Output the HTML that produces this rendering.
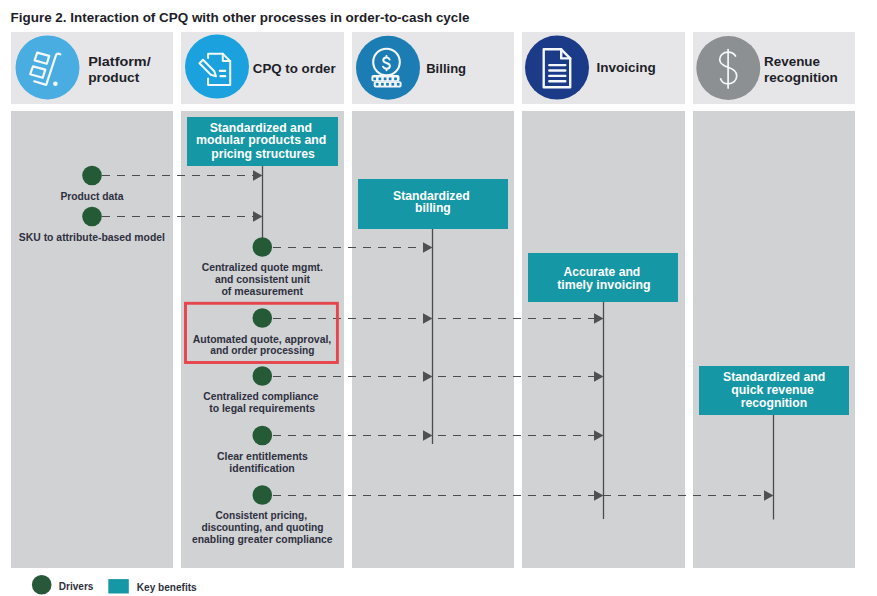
<!DOCTYPE html>
<html><head><meta charset="utf-8"><title>Figure 2</title>
<style>
html,body{margin:0;padding:0;background:#ffffff;}
body{width:877px;height:596px;overflow:hidden;}
svg{display:block;font-family:"Liberation Sans", sans-serif;}
</style></head><body>
<svg width="877" height="596" viewBox="0 0 877 596">
<text x="10.6" y="21.7" font-size="12.1" fill="#1e1e28" font-weight="bold" textLength="458.9" lengthAdjust="spacingAndGlyphs">Figure 2. Interaction of CPQ with other processes in order-to-cash cycle</text>
<rect x="11" y="32" width="162" height="72" fill="#e6e6e8"/>
<rect x="11" y="111" width="162" height="457" fill="#d1d2d4"/>
<rect x="181" y="32" width="163" height="72" fill="#e6e6e8"/>
<rect x="181" y="111" width="163" height="457" fill="#d1d2d4"/>
<rect x="352" y="32" width="162" height="72" fill="#e6e6e8"/>
<rect x="352" y="111" width="162" height="457" fill="#d1d2d4"/>
<rect x="522" y="32" width="163" height="72" fill="#e6e6e8"/>
<rect x="522" y="111" width="163" height="457" fill="#d1d2d4"/>
<rect x="693" y="32" width="162" height="72" fill="#e6e6e8"/>
<rect x="693" y="111" width="162" height="457" fill="#d1d2d4"/>
<text x="88.2" y="65.9" font-size="13" fill="#1e1e28" font-weight="bold" textLength="62.5" lengthAdjust="spacingAndGlyphs">Platform/</text>
<text x="88.2" y="81.5" font-size="13" fill="#1e1e28" font-weight="bold" textLength="51.1" lengthAdjust="spacingAndGlyphs">product</text>
<text x="252.8" y="72.8" font-size="13" fill="#1e1e28" font-weight="bold" textLength="82.8" lengthAdjust="spacingAndGlyphs">CPQ to order</text>
<text x="426.2" y="72.6" font-size="13" fill="#1e1e28" font-weight="bold" textLength="39.9" lengthAdjust="spacingAndGlyphs">Billing</text>
<text x="596.4" y="71.7" font-size="13" fill="#1e1e28" font-weight="bold" textLength="59.3" lengthAdjust="spacingAndGlyphs">Invoicing</text>
<text x="764.1" y="65.9" font-size="13" fill="#1e1e28" font-weight="bold" textLength="55.9" lengthAdjust="spacingAndGlyphs">Revenue</text>
<text x="764.1" y="81.5" font-size="13" fill="#1e1e28" font-weight="bold" textLength="73.6" lengthAdjust="spacingAndGlyphs">recognition</text>
<circle cx="47.5" cy="67.4" r="32" fill="#4aade2"/>
<circle cx="217" cy="66.6" r="32" fill="#1ba2de"/>
<circle cx="388" cy="67.8" r="32" fill="#1c7db4"/>
<circle cx="557" cy="67.6" r="32" fill="#1b3a87"/>
<circle cx="728.3" cy="68" r="32" fill="#8d9093"/>
<g fill="none" stroke="#f4f8fb" stroke-width="2.2" stroke-linejoin="round" stroke-linecap="round">
<path d="M37.2,52.6 L49.2,55.9 L46.8,63.8 L34.6,60.4 Z"/>
<path d="M33,66.4 L45.3,69.6 L42.7,77.8 L30.2,74.2 Z"/>
<path d="M34.2,81.3 L46.2,84.9 L56,55.2 Q56.6,53.5 58.3,53.6 L60.3,54.3"/>
</g>
<circle cx="55.4" cy="83.8" r="2.3" fill="#f4f8fb"/>
<g fill="none" stroke="#f4f8fb" stroke-width="2" stroke-linejoin="round" stroke-linecap="round">
<path d="M208.1,58.1 L208.1,53.7 L222.8,53.7 L230.2,61.1 L230.2,84.9 L208.1,84.9 L208.1,78.5"/>
<path d="M222.8,53.7 L222.8,61.1 L230.2,61.1"/>
<path d="M199.5,63.2 L203,59.7 L214.3,71.2 L216,76.2 L210.8,74.7 Z"/>
<path d="M219.8,70.8 L225.2,70.8 M220.5,76.2 L225.2,76.2" stroke-width="2.3"/>
</g>
<g transform="translate(0,0.6)">
<circle cx="386.5" cy="61.4" r="13.3" fill="none" stroke="#f4f8fb" stroke-width="2.1"/>
<path d="M389.6,58.9 C389.1,57.6 388,57 386.5,57 C384.6,57 383.3,58 383.3,59.6 C383.3,61.4 385,61.9 386.6,62.4 C388.4,62.9 389.9,63.6 389.9,65.5 C389.9,67.1 388.6,68.1 386.5,68.1 C384.8,68.1 383.6,67.4 383,66.1 M386.5,55.4 L386.5,57 M386.5,68.1 L386.5,69.7" fill="none" stroke="#f4f8fb" stroke-width="2" stroke-linecap="round"/>
<rect x="371.4" y="74.5" width="28.1" height="6.4" rx="2" fill="#f4f8fb"/>
<rect x="373.7" y="80.6" width="27.9" height="6.2" rx="2" fill="#f4f8fb"/>
<rect x="373.35" y="76.9" width="2.7" height="2.7" fill="#1c7db4"/>
<rect x="378.55" y="76.9" width="2.7" height="2.7" fill="#1c7db4"/>
<rect x="383.75" y="76.9" width="2.7" height="2.7" fill="#1c7db4"/>
<rect x="388.75" y="76.9" width="2.7" height="2.7" fill="#1c7db4"/>
<rect x="394.15" y="76.9" width="2.7" height="2.7" fill="#1c7db4"/>
<rect x="375.75" y="82.3" width="2.7" height="2.7" fill="#1c7db4"/>
<rect x="381.05" y="82.3" width="2.7" height="2.7" fill="#1c7db4"/>
<rect x="386.15" y="82.3" width="2.7" height="2.7" fill="#1c7db4"/>
<rect x="391.45" y="82.3" width="2.7" height="2.7" fill="#1c7db4"/>
<rect x="396.85" y="82.3" width="2.7" height="2.7" fill="#1c7db4"/>
</g>
<g fill="none" stroke="#f4f8fb" stroke-width="2.4" stroke-linejoin="round" stroke-linecap="round">
<path d="M543.7,49.3 L561.2,49.3 L570.2,58.4 L570.2,87.3 L543.7,87.3 Z"/>
<path d="M561.2,49.3 L561.2,58.4 L570.2,58.4"/>
<path d="M549.3,65.1 L565.3,65.1 M549.3,70.5 L565.3,70.5 M549.3,75.9 L565.3,75.9 M549.3,81.2 L565.3,81.2"/>
</g>
<g fill="none" stroke="#f4f8fb" stroke-width="1.7" stroke-linecap="round">
<path d="M728.1,49.5 L728.1,88.1"/>
<path d="M735.5,56 C733.5,53 731,52.2 728,52.2 C723,52.2 719.7,55.5 719.7,59.6 C719.7,64.2 724,66 728,67.3 C733,68.8 736.7,71 736.7,75.8 C736.7,80.6 733,83.9 728,83.9 C724.5,83.9 721.6,82 720.6,78.8"/>
</g>
<line x1="262.5" y1="166" x2="262.5" y2="247" stroke="#4c4c50" stroke-width="1.3"/>
<line x1="432.5" y1="229" x2="432.5" y2="444" stroke="#4c4c50" stroke-width="1.3"/>
<line x1="603.5" y1="302" x2="603.5" y2="519" stroke="#4c4c50" stroke-width="1.3"/>
<line x1="773.5" y1="415" x2="773.5" y2="519.5" stroke="#4c4c50" stroke-width="1.3"/>
<line x1="102" y1="175.5" x2="253.5" y2="175.5" stroke="#4c4c50" stroke-width="1.1" stroke-dasharray="8 7"/>
<path d="M253.0,170.2 L262.5,175.5 L253.0,180.8 Z" fill="#505054"/>
<line x1="102" y1="216.5" x2="253.5" y2="216.5" stroke="#4c4c50" stroke-width="1.1" stroke-dasharray="8 7"/>
<path d="M253.0,211.2 L262.5,216.5 L253.0,221.8 Z" fill="#505054"/>
<line x1="273" y1="247.5" x2="423.5" y2="247.5" stroke="#4c4c50" stroke-width="1.1" stroke-dasharray="8 7"/>
<path d="M423.0,242.2 L432.5,247.5 L423.0,252.8 Z" fill="#505054"/>
<line x1="273" y1="318.5" x2="594.5" y2="318.5" stroke="#4c4c50" stroke-width="1.1" stroke-dasharray="8 7"/>
<path d="M423.0,313.2 L432.5,318.5 L423.0,323.8 Z" fill="#505054"/>
<path d="M594.0,313.2 L603.5,318.5 L594.0,323.8 Z" fill="#505054"/>
<line x1="273" y1="376.5" x2="594.5" y2="376.5" stroke="#4c4c50" stroke-width="1.1" stroke-dasharray="8 7"/>
<path d="M423.0,371.2 L432.5,376.5 L423.0,381.8 Z" fill="#505054"/>
<path d="M594.0,371.2 L603.5,376.5 L594.0,381.8 Z" fill="#505054"/>
<line x1="273" y1="435.5" x2="594.5" y2="435.5" stroke="#4c4c50" stroke-width="1.1" stroke-dasharray="8 7"/>
<path d="M423.0,430.2 L432.5,435.5 L423.0,440.8 Z" fill="#505054"/>
<path d="M594.0,430.2 L603.5,435.5 L594.0,440.8 Z" fill="#505054"/>
<line x1="273" y1="495.5" x2="764.5" y2="495.5" stroke="#4c4c50" stroke-width="1.1" stroke-dasharray="8 7"/>
<path d="M594.0,490.2 L603.5,495.5 L594.0,500.8 Z" fill="#505054"/>
<path d="M764.0,490.2 L773.5,495.5 L764.0,500.8 Z" fill="#505054"/>
<circle cx="92" cy="175.5" r="9.8" fill="#245a36"/>
<circle cx="92" cy="216.5" r="9.8" fill="#245a36"/>
<circle cx="262.3" cy="247" r="9.8" fill="#245a36"/>
<circle cx="262.3" cy="318" r="9.8" fill="#245a36"/>
<circle cx="262.3" cy="376" r="9.8" fill="#245a36"/>
<circle cx="262.3" cy="435.5" r="9.8" fill="#245a36"/>
<circle cx="262.3" cy="495" r="9.8" fill="#245a36"/>
<text x="60.4" y="200.0" font-size="10" fill="#2e3040" font-weight="bold" textLength="63.0" lengthAdjust="spacingAndGlyphs">Product data</text>
<text x="18.8" y="241.1" font-size="10" fill="#2e3040" font-weight="bold" textLength="146.2" lengthAdjust="spacingAndGlyphs">SKU to attribute-based model</text>
<text x="201.7" y="271.1" font-size="10" fill="#2e3040" font-weight="bold" textLength="121.3" lengthAdjust="spacingAndGlyphs">Centralized quote mgmt.</text>
<text x="215.0" y="282.8" font-size="10" fill="#2e3040" font-weight="bold" textLength="95.0" lengthAdjust="spacingAndGlyphs">and consistent unit</text>
<text x="221.4" y="294.6" font-size="10" fill="#2e3040" font-weight="bold" textLength="81.7" lengthAdjust="spacingAndGlyphs">of measurement</text>
<text x="192.7" y="342.7" font-size="10" fill="#2e3040" font-weight="bold" textLength="138.6" lengthAdjust="spacingAndGlyphs">Automated quote, approval,</text>
<text x="210.3" y="353.7" font-size="10" fill="#2e3040" font-weight="bold" textLength="104.1" lengthAdjust="spacingAndGlyphs">and order processing</text>
<text x="203.2" y="400.3" font-size="10" fill="#2e3040" font-weight="bold" textLength="115.4" lengthAdjust="spacingAndGlyphs">Centralized compliance</text>
<text x="209.2" y="412.0" font-size="10" fill="#2e3040" font-weight="bold" textLength="105.8" lengthAdjust="spacingAndGlyphs">to legal requirements</text>
<text x="216.9" y="460.1" font-size="10" fill="#2e3040" font-weight="bold" textLength="91.0" lengthAdjust="spacingAndGlyphs">Clear entitlements</text>
<text x="229.3" y="471.8" font-size="10" fill="#2e3040" font-weight="bold" textLength="65.5" lengthAdjust="spacingAndGlyphs">identification</text>
<text x="215.5" y="519.0" font-size="10" fill="#2e3040" font-weight="bold" textLength="91.5" lengthAdjust="spacingAndGlyphs">Consistent pricing,</text>
<text x="201.4" y="530.7" font-size="10" fill="#2e3040" font-weight="bold" textLength="122.1" lengthAdjust="spacingAndGlyphs">discounting, and quoting</text>
<text x="192.0" y="542.7" font-size="10" fill="#2e3040" font-weight="bold" textLength="140.6" lengthAdjust="spacingAndGlyphs">enabling greater compliance</text>
<rect x="187" y="117" width="151" height="49" fill="#1697a6"/>
<text x="209.7" y="131.8" font-size="12.3" fill="#ffffff" font-weight="bold" textLength="102.2" lengthAdjust="spacingAndGlyphs">Standardized and</text>
<text x="196.0" y="144.4" font-size="12.3" fill="#ffffff" font-weight="bold" textLength="130.4" lengthAdjust="spacingAndGlyphs">modular products and</text>
<text x="211.2" y="157.6" font-size="12.3" fill="#ffffff" font-weight="bold" textLength="103.7" lengthAdjust="spacingAndGlyphs">pricing structures</text>
<rect x="358" y="179" width="150" height="50" fill="#1697a6"/>
<text x="393.0" y="199.8" font-size="12.3" fill="#ffffff" font-weight="bold" textLength="76.7" lengthAdjust="spacingAndGlyphs">Standardized</text>
<text x="415.0" y="212.0" font-size="12.3" fill="#ffffff" font-weight="bold" textLength="35.8" lengthAdjust="spacingAndGlyphs">billing</text>
<rect x="528" y="253" width="150" height="49" fill="#1697a6"/>
<text x="563.4" y="275.9" font-size="12.3" fill="#ffffff" font-weight="bold" textLength="76.9" lengthAdjust="spacingAndGlyphs">Accurate and</text>
<text x="557.2" y="289.3" font-size="12.3" fill="#ffffff" font-weight="bold" textLength="93.4" lengthAdjust="spacingAndGlyphs">timely invoicing</text>
<rect x="699" y="366" width="150" height="49" fill="#1697a6"/>
<text x="723.0" y="380.7" font-size="12.3" fill="#ffffff" font-weight="bold" textLength="102.2" lengthAdjust="spacingAndGlyphs">Standardized and</text>
<text x="731.2" y="394.0" font-size="12.3" fill="#ffffff" font-weight="bold" textLength="82.7" lengthAdjust="spacingAndGlyphs">quick revenue</text>
<text x="740.8" y="407.2" font-size="12.3" fill="#ffffff" font-weight="bold" textLength="66.3" lengthAdjust="spacingAndGlyphs">recognition</text>
<rect x="185.5" y="303.3" width="151.9" height="59.2" fill="none" stroke="#e6454b" stroke-width="2.9"/>
<circle cx="41.7" cy="584.8" r="9.8" fill="#27583a"/>
<text x="58.8" y="590.0" font-size="10" fill="#2e3040" font-weight="bold" textLength="34.6" lengthAdjust="spacingAndGlyphs">Drivers</text>
<rect x="108.3" y="579.1" width="20.5" height="14.4" fill="#1697a6"/>
<text x="136.8" y="590.5" font-size="10" fill="#2e3040" font-weight="bold" textLength="59.9" lengthAdjust="spacingAndGlyphs">Key benefits</text>
</svg>
</body></html>
